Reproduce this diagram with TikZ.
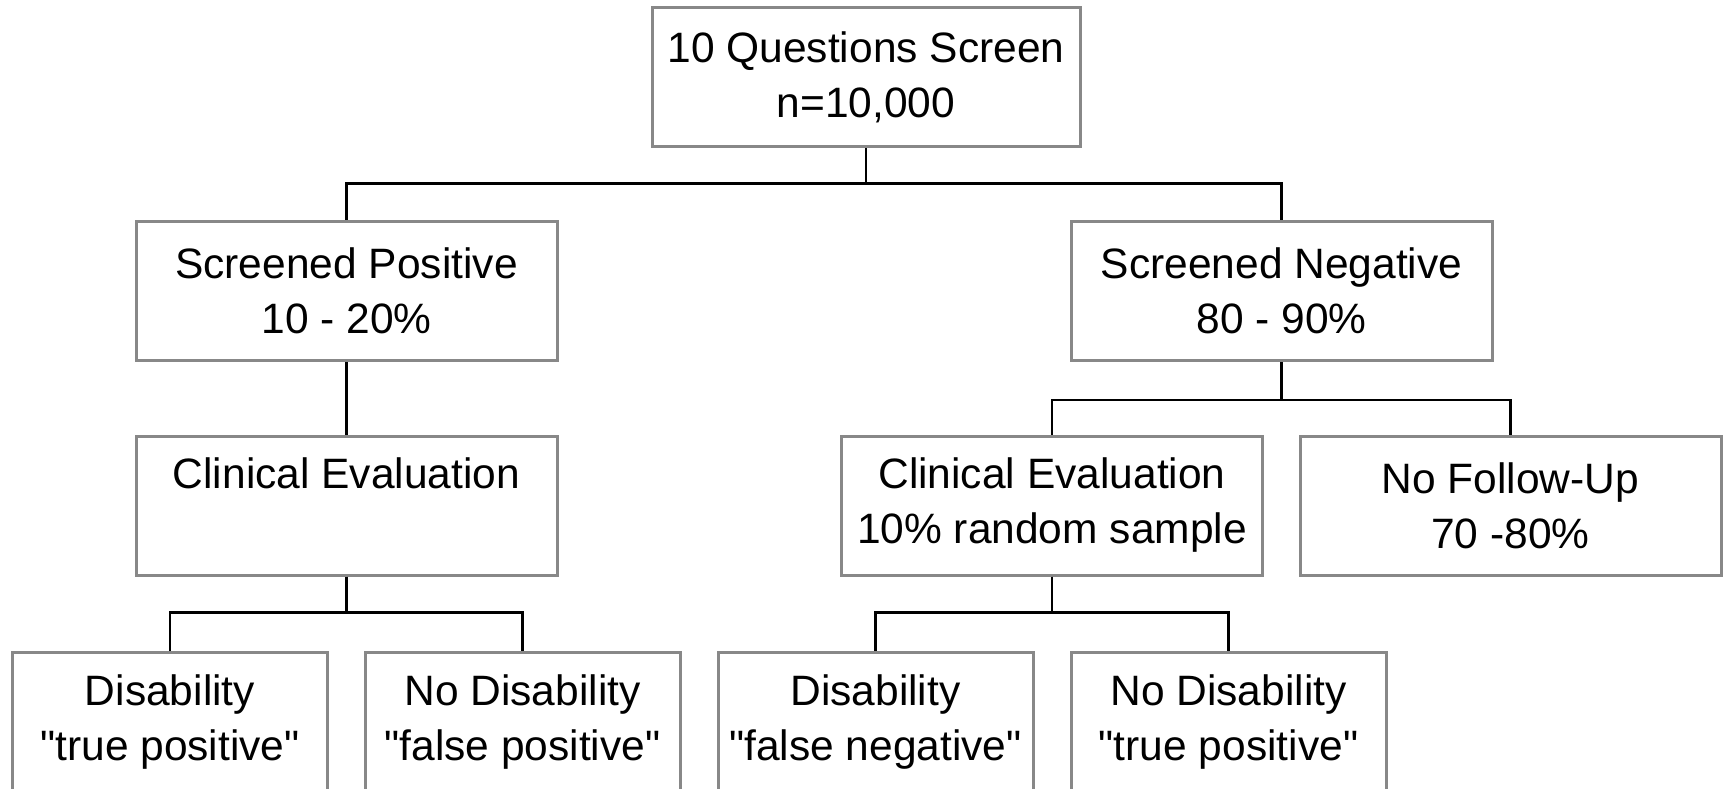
\documentclass[tikz,border=0pt]{standalone}
\usepackage{fontspec}
\setmainfont{Liberation Sans}
\newcommand{\dq}{\textquotedbl}
\begin{document}
\begin{tikzpicture}[x=1pt,y=-1pt,
  box/.style={draw=boxgray, line width=3pt, fill=white, inner sep=0pt, align=center,
    font=\fontsize{42.5}{55}\selectfont, minimum height=139pt},
  wide/.style={minimum width=421pt},
  narrow/.style={minimum width=315pt},
  link/.style={draw=black, line width=2.6pt}]
\definecolor{boxgray}{RGB}{136,136,136}
\useasboundingbox (0,0) rectangle (1729,789);
\clip (0,0) rectangle (1729,789);
\node[box, minimum width=428pt] (top) at (866,77.5) {10 Questions Screen\\n=10,000};
\node[box, wide] (sp) at (346.5,291) {Screened Positive\\10 - 20\%};
\node[box, wide] (sn) at (1281.5,291) {Screened Negative\\80 - 90\%};
\node[box, wide] (lce) at (346.5,505.5) {Clinical Evaluation\\\vphantom{10\% random sample}};
\node[box, wide] (rce) at (1052,505.5) {Clinical Evaluation\\10\% random sample};
\node[box, wide] (nfu) at (1510.5,505.5) {No Follow-Up\\70 -80\%};
\node[box, narrow, anchor=north] (d1) at (170,651) {Disability\\\dq true positive\dq};
\node[box, narrow, anchor=north] (d2) at (522.5,651) {No Disability\\\dq false positive\dq};
\node[box, narrow, anchor=north] (d3) at (875.5,651) {Disability\\\dq false negative\dq};
\node[box, narrow, anchor=north] (d4) at (1228.5,651) {No Disability\\\dq true positive\dq};
\draw[link] (top.south) -- ++(0,35) -| (sp.north);
\draw[link] (top.south) -- ++(0,35) -| (sn.north);
\draw[link] (sp.south) -- (lce.north);
\draw[link] (sn.south) -- ++(0,38) -| (rce.north);
\draw[link] (sn.south) -- ++(0,38) -| (nfu.north);
\draw[link] (lce.south) -- ++(0,36) -| (d1.north);
\draw[link] (lce.south) -- ++(0,36) -| (d2.north);
\draw[link] (rce.south) -- ++(0,36) -| (d3.north);
\draw[link] (rce.south) -- ++(0,36) -| (d4.north);
\end{tikzpicture}
\end{document}
